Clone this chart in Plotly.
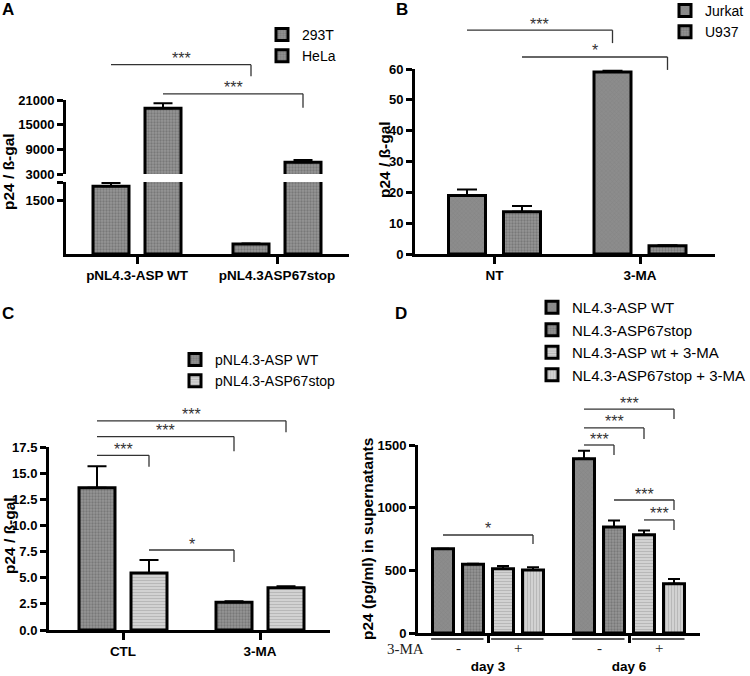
import plotly.graph_objects as go

W, H = 750, 676
SANS = "Liberation Sans, Arial, Helvetica, sans-serif"
SERIF = "Liberation Serif, Times New Roman, serif"

# ---------------- data ----------------
A_categories = ["pNL4.3-ASP WT", "pNL4.3ASP67stop"]
A_series = ["293T", "HeLa"]
A_293T = [1880, 280]
A_293T_err = [95, 15]
A_HeLa = [19000, 5850]
A_HeLa_err = [1200, 550]
A_ticks_upper = [3000, 9000, 15000, 21000]
A_ticks_lower = [1500]

B_categories = ["NT", "3-MA"]
B_series = ["Jurkat", "U937"]
B_Jurkat = [19.0, 59.0]
B_Jurkat_err = [1.9, 0.4]
B_U937 = [13.7, 2.7]
B_U937_err = [1.9, 0.1]
B_ticks = [0, 10, 20, 30, 40, 50, 60]

C_categories = ["CTL", "3-MA"]
C_series = ["pNL4.3-ASP WT", "pNL4.3-ASP67stop"]
C_WT = [13.6, 2.65]
C_WT_err = [2.05, 0.1]
C_stop = [5.45, 4.03]
C_stop_err = [1.25, 0.16]
C_ticks = [0, 2.5, 5, 7.5, 10, 12.5, 15, 17.5]

D_categories = ["day 3", "day 6"]
D_series = ["NL4.3-ASP WT", "NL4.3-ASP67stop", "NL4.3-ASP wt + 3-MA", "NL4.3-ASP67stop + 3-MA"]
D_WT = [672, 1390]
D_WT_err = [0, 65]
D_stop = [548, 845]
D_stop_err = [4, 52]
D_WT_3MA = [512, 784]
D_WT_3MA_err = [23, 33]
D_stop_3MA = [502, 393]
D_stop_3MA_err = [23, 38]
D_ticks = [0, 500, 1000, 1500]
D_treatment_label = "3-MA"
D_treatment = ["-", "+"]

# significance brackets: (from (category, series), to (category, series), bar level, drop end, label)
A_sig = [((0, 0), (1, 0), 29600, 26800, "***"),
         ((0, 1), (1, 1), 22500, 19100, "***")]
B_sig = [((0, 0), (1, 0), 72.6, 68.4, "***"),
         ((0, 1), (1, 1), 63.9, 59.7, "*")]
C_sig = [((0, 0), (0, 1), 16.7, 15.6, "***"),
         ((0, 0), (1, 0), 18.5, 17.1, "***"),
         ((0, 0), (1, 1), 20.0, 18.9, "***"),
         ((0, 1), (1, 0), 7.65, 6.5, "*")]
D_sig = [((0, 0), (0, 3), 782, 710, "*"),
         ((1, 0), (1, 3), 1787, 1707, "***"),
         ((1, 0), (1, 2), 1636, 1548, "***"),
         ((1, 0), (1, 1), 1500, 1420, "***"),
         ((1, 1), (1, 3), 1061, 981, "***"),
         ((1, 2), (1, 3), 902, 822, "***")]

# ---------------- styles ----------------
P_GRAY1 = dict(shape="x", size=3, solidity=0.2, fgcolor="#727272", bgcolor="#8c8c8c")
P_GRAY2 = dict(shape=".", size=3, solidity=0.45, fgcolor="#5a5a5a", bgcolor="#969696")
P_HSTR = dict(shape="-", size=3, solidity=0.45, fgcolor="#9a9a9a", bgcolor="#d6d6d6")
P_VSTR = dict(shape="|", size=3, solidity=0.45, fgcolor="#9a9a9a", bgcolor="#d6d6d6")


def fx(px):
    return px / W


def fy(py):
    return 1 - py / H


# panel geometry (pixels) -- layout only
PAN = {
    "A": dict(xa="x", x0=66, x1=349, c0=137, unit=140, slot=52, bw=36, cap=9.5),
    "B": dict(xa="x2", x0=415, x1=715, c0=494.5, unit=145.5, slot=55, bw=37, cap=10),
    "C": dict(xa="x3", x0=49, x1=330, c0=123, unit=137, slot=52, bw=36, cap=9.5),
    "D": dict(xa="x4", x0=418, x1=700, c0=488, unit=141, slot=30, bw=21, cap=6),
}
YDOM = {"y": (182, 254), "y5": (100, 174), "y2": (69, 254), "y3": (447, 630), "y4": (445, 633)}
YRNG = {"y": [0, 2000], "y5": [3000, 21000], "y2": [0, 60], "y3": [0, 17.5], "y4": [0, 1500]}


def xrange_of(p):
    return [-(p["c0"] - p["x0"]) / p["unit"], (p["x1"] - p["c0"]) / p["unit"]]


def slot_off(p, i, n):
    return (i - (n - 1) / 2) * p["slot"] / p["unit"]


def paper_y(val, ya):
    top, bot = YDOM[ya]
    r0, r1 = YRNG[ya]
    py = bot - (val - r0) / (r1 - r0) * (bot - top)
    return fy(py)


fig = go.Figure()


def add_bars(p, cats, names, vals, errs, styles, ya, legend, showlegend=True):
    n = len(names)
    w = p["bw"] / p["unit"]
    for i, (nm, v, e, st) in enumerate(zip(names, vals, errs, styles)):
        fig.add_trace(go.Bar(
            x=cats, y=v, name=nm, xaxis=p["xa"], yaxis=ya,
            offset=slot_off(p, i, n) - w / 2, width=w,
            marker=dict(color=st["bgcolor"], pattern=st, line=dict(color="black", width=3)),
            error_y=dict(type="data", array=e, arrayminus=[0] * len(e), symmetric=False,
                         color="black", thickness=2, width=p["cap"]),
            legend=legend, showlegend=showlegend, legendgroup=legend + nm,
        ))


def add_sig(p, ya, sigs, n):
    for (c1, s1), (c2, s2), ytop, ybot, label in sigs:
        xa = c1 + slot_off(p, s1, n)
        xb = c2 + slot_off(p, s2, n)
        yt = paper_y(ytop, ya)
        yb = paper_y(ybot, ya)
        ln = dict(color="#333333", width=1.3)
        fig.add_shape(type="line", xref=p["xa"], yref="paper", x0=xa, x1=xb, y0=yt, y1=yt, line=ln)
        fig.add_shape(type="line", xref=p["xa"], yref="paper", x0=xb, x1=xb, y0=yt, y1=yb, line=ln)
        fig.add_annotation(xref=p["xa"], yref="paper", x=(xa + xb) / 2, y=yt, yshift=6,
                           xanchor="center", yanchor="middle", text=label, showarrow=False,
                           font=dict(family=SANS, size=16, color="#333333"))


# Panel A (broken axis: lower y, upper y5)
add_bars(PAN["A"], A_categories, A_series, [A_293T, A_HeLa], [A_293T_err, A_HeLa_err],
         [P_GRAY2, P_GRAY2], "y", "legend", True)
add_bars(PAN["A"], A_categories, A_series, [A_293T, A_HeLa], [A_293T_err, A_HeLa_err],
         [P_GRAY2, P_GRAY2], "y5", "legend", False)
add_sig(PAN["A"], "y5", A_sig, 2)

# Panel B
add_bars(PAN["B"], B_categories, B_series, [B_Jurkat, B_U937], [B_Jurkat_err, B_U937_err],
         [P_GRAY1, P_GRAY2], "y2", "legend2")
add_sig(PAN["B"], "y2", B_sig, 2)

# Panel C
add_bars(PAN["C"], C_categories, C_series, [C_WT, C_stop], [C_WT_err, C_stop_err],
         [P_GRAY2, P_HSTR], "y3", "legend3")
add_sig(PAN["C"], "y3", C_sig, 2)

# Panel D
add_bars(PAN["D"], D_categories, D_series, [D_WT, D_stop, D_WT_3MA, D_stop_3MA],
         [D_WT_err, D_stop_err, D_WT_3MA_err, D_stop_3MA_err],
         [P_GRAY1, P_GRAY2, P_HSTR, P_VSTR], "y4", "legend4")
add_sig(PAN["D"], "y4", D_sig, 4)

# 3-MA treatment row under panel D
pD = PAN["D"]
wD = pD["bw"] / pD["unit"]
for c in range(len(D_categories)):
    for j, sign in enumerate(D_treatment):
        xl = c + slot_off(pD, 2 * j, 4) - wD / 2
        xr = c + slot_off(pD, 2 * j + 1, 4) + wD / 2
        fig.add_shape(type="line", xref="x4", yref="paper", x0=xl - 0.01, x1=xr, y0=fy(639), y1=fy(639),
                      line=dict(color="#222222", width=1.5))
        fig.add_annotation(xref="x4", yref="paper", x=(xl + xr) / 2, y=fy(648), text=sign,
                           xanchor="center", yanchor="middle",
                           showarrow=False, font=dict(family=SERIF, size=15, color="#222222"))
fig.add_annotation(xref="paper", yref="paper", x=fx(405), y=fy(649), text=D_treatment_label,
                   xanchor="center", yanchor="middle",
                   showarrow=False, font=dict(family=SERIF, size=15, color="#222222"))

# panel letters and y titles
for letter, (px, py) in {"A": (8, 9), "B": (402, 9), "C": (8, 313), "D": (401, 313)}.items():
    fig.add_annotation(xref="paper", yref="paper", x=fx(px), y=fy(py), text=letter, showarrow=False,
                       xanchor="center", yanchor="middle",
                       font=dict(family=SANS, size=17, color="black", weight="bold"))
for txt, (px, py) in [("p24 / ß-gal", (9, 172)), ("p24 / ß-gal", (384, 160)),
                      ("p24 / ß-gal", (9, 536)), ("p24 (pg/ml) in supernatants", (367, 539))]:
    fig.add_annotation(xref="paper", yref="paper", x=fx(px), y=fy(py), text=txt, textangle=-90,
                       xanchor="center", yanchor="middle",
                       showarrow=False, font=dict(family=SANS, size=15.5, color="black", weight="bold"))

TICKFONT = dict(family=SANS, size=13, color="black", weight="bold")


def xax(p, anchor, cats, standoff=0):
    d = dict(domain=[fx(p["x0"]), fx(p["x1"])], range=xrange_of(p), anchor=anchor, type="category",
             categoryorder="array", categoryarray=cats,
             showline=True, linewidth=3, linecolor="black", ticks="outside", ticklen=7, tickwidth=2.5,
             tickcolor="black", tickfont=dict(TICKFONT, size=13.5), showgrid=False, zeroline=False,
             fixedrange=True)
    if standoff:
        d["ticklabelstandoff"] = standoff
    return d


def yax(ya, anchor, tickvals, ticktext=None, fmt="d"):
    top, bot = YDOM[ya]
    d = dict(domain=[fy(bot), fy(top)], range=YRNG[ya], anchor=anchor,
             showline=True, linewidth=3, linecolor="black", ticks="outside", ticklen=6, tickwidth=3,
             tickcolor="black", tickfont=TICKFONT, tickvals=tickvals, tickformat=fmt,
             showgrid=False, zeroline=False, fixedrange=True)
    if ticktext is not None:
        d["ticktext"] = ticktext
    return d


def legend_cfg(xpx, ypx, size):
    return dict(x=fx(xpx), y=fy(ypx), xanchor="left", yanchor="top", bgcolor="rgba(0,0,0,0)",
                font=dict(family=SANS, size=size, color="black"), itemwidth=30, tracegroupgap=0,
                traceorder="normal")


fig.update_layout(
    width=W, height=H, margin=dict(l=0, r=0, t=0, b=0, autoexpand=False),
    paper_bgcolor="white", plot_bgcolor="white", barmode="overlay", showlegend=True,
    xaxis=xax(PAN["A"], "y", A_categories),
    xaxis2=xax(PAN["B"], "y2", B_categories),
    xaxis3=xax(PAN["C"], "y3", C_categories),
    xaxis4=xax(PAN["D"], "y4", D_categories, standoff=12),
    yaxis=yax("y", "x", A_ticks_lower + [YRNG["y"][1]], [str(v) for v in A_ticks_lower] + [""]),
    yaxis5=yax("y5", "x", A_ticks_upper),
    yaxis2=yax("y2", "x2", B_ticks),
    yaxis3=yax("y3", "x3", C_ticks, fmt=".1f"),
    yaxis4=yax("y4", "x4", D_ticks),
    legend=legend_cfg(262, 19, 14),
    legend2=legend_cfg(665, -5, 14),
    legend3=legend_cfg(175, 344, 14),
    legend4=legend_cfg(532, 291, 15),
)

fig.write_html(
    "out.html",
    config={"displayModeBar": False},
    post_script="document.documentElement.style.margin='0';document.body.style.margin='0';"
                "document.body.style.overflow='hidden';",
)
